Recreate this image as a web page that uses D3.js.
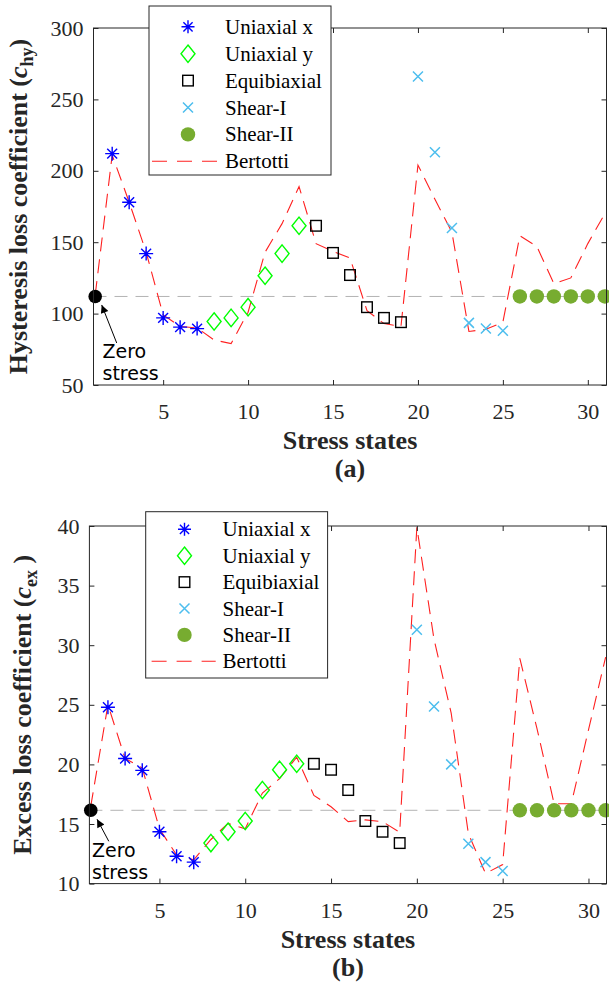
<!DOCTYPE html>
<html><head><meta charset="utf-8">
<script src="https://cdn.jsdelivr.net/npm/d3@7"></script>
<style>body{margin:0;background:#fff}svg{display:block}</style>
</head><body><svg id="c" width="609" height="988"></svg>
<script>
// ---------------- data ----------------
const allStates      = [1,2,3,4,5,6,7,8,9,10,11,12,13,14,15,16,17,18,19,20,21,22,23,24,25,26,27,28,29,30,31];
const uniaxialXStates = [2,3,4,5,6,7];
const uniaxialYStates = [8,9,10,11,12,13];
const equiStates      = [14,15,16,17,18,19];
const shearIStates    = [20,21,22,23,24,25];
const shearIIStates   = [26,27,28,29,30,31];
const zeroState = 1;

const hyZero = 112;
const hyUniaxialX   = [212, 178, 142, 97, 90.5, 89.5];
const hyUniaxialY   = [94.5, 97, 104.5, 126.5, 142, 161.5];
const hyEquibiaxial = [161.5, 142.5, 127, 104.5, 97, 94];
const hyShearI      = [266, 213, 160, 93.5, 89.5, 88];
const hyShearII     = [112, 112, 112, 112, 112, 112];
const hyBertotti    = [113, 211, 178, 143, 99, 91, 90, 81.5, 79, 101, 143, 163, 189, 149, 143.5, 139, 102, 93, 91, 204, 180, 157, 87.5, 89, 94, 154.5, 147, 121, 125, 149, 170];

const exZero = 16.15;
const exUniaxialX   = [24.8, 20.5, 19.5, 14.35, 12.3, 11.8];
const exUniaxialY   = [13.4, 14.35, 15.25, 17.85, 19.55, 20.05];
const exEquibiaxial = [20.05, 19.55, 17.85, 15.25, 14.35, 13.4];
const exShearI      = [31.3, 24.85, 20.0, 13.35, 11.8, 11.05];
const exShearII     = [16.15, 16.15, 16.15, 16.15, 16.15, 16.15];
const exBertotti    = [16.5, 25.0, 20.5, 19.7, 14.6, 12.4, 12.0, 13.7, 15.05, 14.6, 17.6, 18.8, 20.6, 17.4, 16.45, 15.2, 15.35, 15.2, 14.3, 39.9, 30.5, 24.3, 14.2, 10.85, 11.6, 28.9, 23.0, 16.7, 16.7, 22.9, 29.0];

const xTicks  = [5, 10, 15, 20, 25, 30];
const hyTicks = [50, 100, 150, 200, 250, 300];
const exTicks = [10, 15, 20, 25, 30, 35, 40];
const legendLabels = ["Uniaxial x", "Uniaxial y", "Equibiaxial", "Shear-I", "Shear-II", "Bertotti"];

// ---------------- style ----------------
const C = {axis:"#262626", blue:"#0000ff", green:"#00ff00", black:"#000", cyan:"#4dbeee", olive:"#77ac30", red:"#ff2020", gray:"#b3b3b3"};
const SERIF = "'Liberation Serif','Times New Roman',serif";
const svg = d3.select("#c");

const defs = svg.append("defs");
defs.append("marker").attr("id","arrow").attr("viewBox","0 0 10 10").attr("refX",10).attr("refY",5)
  .attr("markerWidth",10).attr("markerHeight",8).attr("markerUnits","userSpaceOnUse").attr("orient","auto")
  .append("path").attr("d","M0,0 L10,5 L0,10 Z").attr("fill","#000");

// marker painters
function star(g, r){ const s = r*0.7071;
  g.append("path").attr("d",`M${-r},0L${r},0M0,${-r}L0,${r}M${-s},${-s}L${s},${s}M${-s},${s}L${s},${-s}`)
   .attr("stroke",C.blue).attr("stroke-width",1.4).attr("fill","none"); }
function diamond(g){ g.append("path").attr("d","M0,-8.7L7,0L0,8.7L-7,0Z").attr("stroke",C.green).attr("stroke-width",1.4).attr("fill","none"); }
function square(g){ g.append("rect").attr("x",-5.3).attr("y",-5.3).attr("width",10.6).attr("height",10.6).attr("stroke",C.black).attr("stroke-width",1.4).attr("fill","none"); }
function cross(g){ g.append("path").attr("d","M-5,-5L5,5M-5,5L5,-5").attr("stroke",C.cyan).attr("stroke-width",1.5).attr("fill","none"); }
function dot(g){ g.append("circle").attr("r",7.2).attr("fill",C.olive); }

function drawPanel(p){
  const x = d3.scaleLinear().domain(p.xDomain).range([p.left, p.right]);
  const y = d3.scaleLinear().domain(p.yDomain).range([p.bottom, p.top]);
  const g = svg.append("g");
  const clipId = "clip"+p.id;
  defs.append("clipPath").attr("id",clipId).append("rect")
    .attr("x",p.left).attr("y",p.top).attr("width",p.right-p.left).attr("height",p.bottom-p.top);

  // reference line
  g.append("line").attr("x1",x(p.xDomain[0])).attr("x2",x(p.xDomain[1]))
    .attr("y1",y(p.zero)).attr("y2",y(p.zero))
    .attr("stroke",C.gray).attr("stroke-width",1).attr("stroke-dasharray","13,8");

  // Bertotti line
  g.append("path").datum(allStates.map((s,i)=>[s,p.bertotti[i]]))
    .attr("clip-path",`url(#${clipId})`)
    .attr("d", d3.line().x(d=>x(d[0])).y(d=>y(d[1])))
    .attr("fill","none").attr("stroke",C.red).attr("stroke-width",1.1).attr("stroke-dasharray","14,8");

  const series = [
    [uniaxialXStates, p.uniX, g2=>star(g2,7)],
    [uniaxialYStates, p.uniY, diamond],
    [equiStates, p.equi, square],
    [shearIStates, p.shI, cross],
    [shearIIStates, p.shII, dot]
  ];
  series.forEach(([st, vals, painter])=>{
    st.forEach((s,i)=>{ const m = g.append("g").attr("transform",`translate(${x(s)},${y(vals[i])})`); painter(m); });
  });

  // zero stress point & annotation
  const zx = x(zeroState), zy = y(p.zero);
  g.append("circle").attr("cx",zx).attr("cy",zy).attr("r",6.8).attr("fill","#000");
  g.append("line").attr("x1",zx+p.arrowTail[0]).attr("y1",zy+p.arrowTail[1])
    .attr("x2",zx+p.arrowHead[0]).attr("y2",zy+p.arrowHead[1])
    .attr("stroke","#000").attr("stroke-width",1).attr("marker-end","url(#arrow)");
  g.append("text").attr("font-family","'DejaVu Sans',sans-serif").attr("font-size",19).attr("fill","#000")
    .attr("x",p.zeroText[0]).attr("y",p.zeroText[1]).text("Zero");
  g.append("text").attr("font-family","'DejaVu Sans',sans-serif").attr("font-size",19).attr("fill","#000")
    .attr("x",p.zeroText[0]).attr("y",p.zeroText[1]+22).text("stress");

  // box
  g.append("rect").attr("x",p.left).attr("y",p.top).attr("width",p.right-p.left).attr("height",p.bottom-p.top)
    .attr("fill","none").attr("stroke",C.axis).attr("stroke-width",1);

  const styleAxis = (sel)=>{ sel.select(".domain").remove(); sel.selectAll("line").attr("stroke",C.axis);
    sel.selectAll("text").attr("font-family",SERIF).attr("font-size",22).attr("fill",C.axis); };
  g.append("g").attr("transform",`translate(0,${p.bottom})`)
    .call(d3.axisBottom(x).tickValues(xTicks).tickSize(-5).tickPadding(18.5)).call(styleAxis);
  g.append("g").attr("transform",`translate(0,${p.top})`)
    .call(d3.axisTop(x).tickValues(xTicks).tickSize(-5).tickFormat("")).call(styleAxis);
  g.append("g").attr("transform",`translate(${p.left},0)`)
    .call(d3.axisLeft(y).tickValues(p.yTicks).tickSize(-5).tickPadding(10)).call(styleAxis);
  g.append("g").attr("transform",`translate(${p.right},0)`)
    .call(d3.axisRight(y).tickValues(p.yTicks).tickSize(-5).tickFormat("")).call(styleAxis);

  // axis labels
  const cx = (p.left+p.right)/2;
  g.append("text").attr("x",cx).attr("y",p.bottom+64).attr("text-anchor","middle")
    .attr("font-family",SERIF).attr("font-weight","bold").attr("font-size",26).attr("fill",C.axis).text("Stress states");
  g.append("text").attr("x",cx).attr("y",p.bottom+92).attr("text-anchor","middle")
    .attr("font-family",SERIF).attr("font-weight","bold").attr("font-size",26).attr("fill",C.axis).text(p.panel);
  const yl = g.append("text").attr("transform",`translate(${p.yLabelX},${(p.top+p.bottom)/2}) rotate(-90)`)
    .attr("text-anchor","middle").attr("font-family",SERIF).attr("font-weight","bold").attr("font-size",26).attr("fill",C.axis);
  yl.append("tspan").text(p.yLabel+" (");
  yl.append("tspan").attr("font-style","italic").text("c");
  yl.append("tspan").attr("font-size",18).attr("dy",6).text(p.sub);
  yl.append("tspan").attr("dy",-6).text(p.subGap + ")");

  // legend
  const L = p.legend;
  const lg = svg.append("g");
  lg.append("rect").attr("x",L.x0).attr("y",L.y0).attr("width",L.x1-L.x0).attr("height",L.y1-L.y0)
    .attr("fill","#fff").attr("stroke",C.axis).attr("stroke-width",1);
  const painters = [g2=>star(g2,6.5), diamond, square, cross, dot];
  legendLabels.forEach((lab,i)=>{
    const ry = L.row0 + i*L.dy;
    if(i<5){ painters[i](lg.append("g").attr("transform",`translate(${L.mx},${ry})`)); }
    else { lg.append("line").attr("x1",L.lx0).attr("x2",L.lx1).attr("y1",ry).attr("y2",ry)
      .attr("stroke",C.red).attr("stroke-width",1.1).attr("stroke-dasharray","15,10"); }
    lg.append("text").attr("x",L.tx).attr("y",ry+7).attr("font-family",SERIF).attr("font-size",21)
      .attr("fill","#000").text(lab);
  });
}

drawPanel({id:"a", panel:"(a)", xDomain:[0.9,31.1], yDomain:[50,300], left:93.5, right:606.5, top:28, bottom:385,
  yTicks:hyTicks, zero:hyZero, bertotti:hyBertotti, uniX:hyUniaxialX, uniY:hyUniaxialY, equi:hyEquibiaxial, shI:hyShearI, shII:hyShearII,
  arrowTail:[21.5,46.5], arrowHead:[6.5,8.5], zeroText:[102.5,358],
  yLabel:"Hysteresis loss coefficient", sub:"hy", subGap:"", yLabelX:27,
  legend:{x0:149, x1:331, y0:6, y1:175, row0:26.8, dy:26.9, mx:188, tx:225, lx0:152, lx1:217}});

drawPanel({id:"b", panel:"(b)", xDomain:[0.92,31.05], yDomain:[10,40], left:89.4, right:606.5, top:526, bottom:883.6,
  yTicks:exTicks, zero:exZero, bertotti:exBertotti, uniX:exUniaxialX, uniY:exUniaxialY, equi:exEquibiaxial, shI:exShearI, shII:exShearII,
  arrowTail:[18,31], arrowHead:[6.3,9], zeroText:[92,857],
  yLabel:"Excess loss coefficient", sub:"ex", subGap:" ", yLabelX:31,
  legend:{x0:145.7, x1:327.6, y0:511.7, y1:678, row0:529.3, dy:26.4, mx:184.5, tx:222.5, lx0:151.6, lx1:215.7}});
</script></body></html>
